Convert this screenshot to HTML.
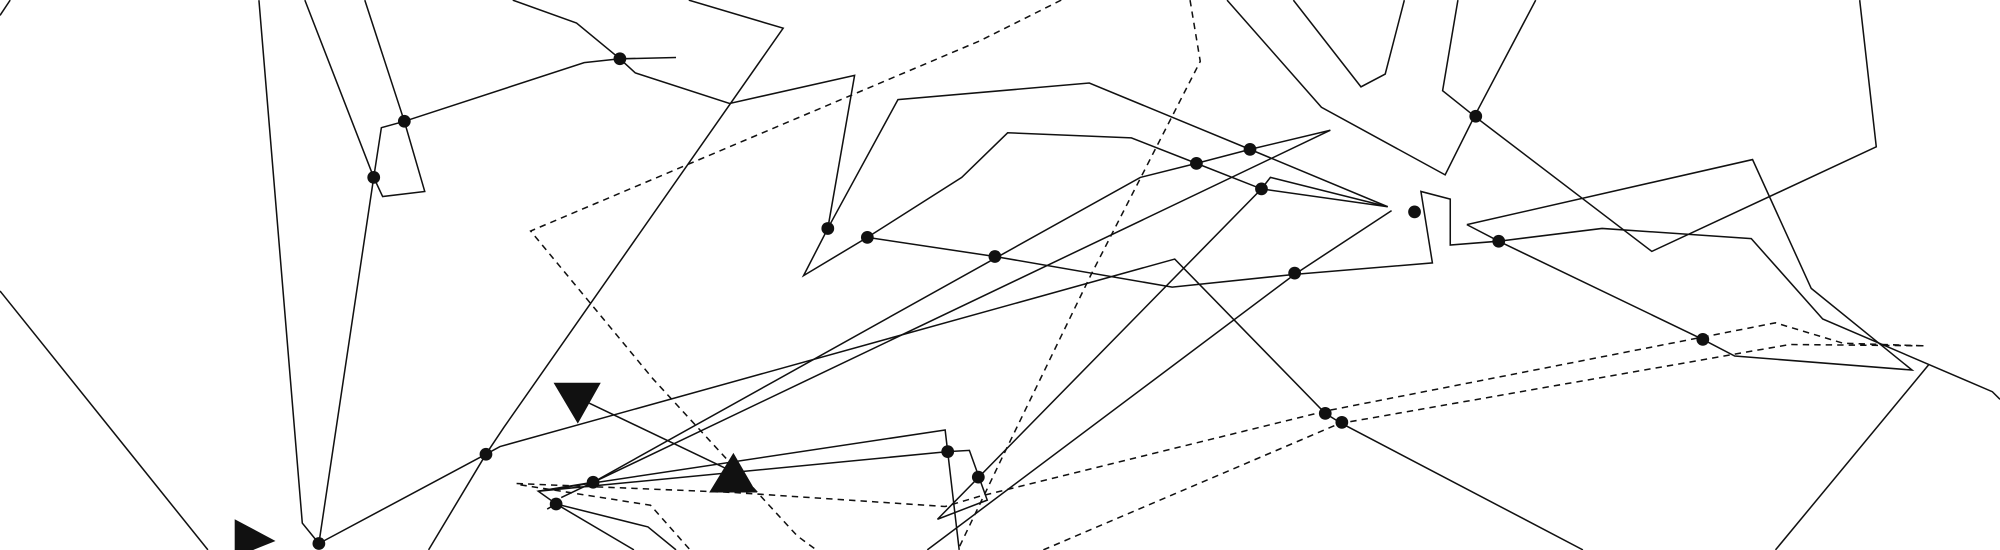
<!DOCTYPE html>
<html><head><meta charset="utf-8"><style>html,body{margin:0;padding:0;background:#fff;}svg{display:block;}</style></head>
<body>
<svg width="2000" height="550" viewBox="0 0 1568 431" xmlns="http://www.w3.org/2000/svg">
<g fill="none" stroke="#111" stroke-width="1.2" stroke-linejoin="miter">
<polyline points="0,12 8,0"/>
<polyline points="0,228 163,431"/>
<polyline points="203,0 237,410 250,426"/>
<polyline points="250,426 293,139 299,100 317,95 458,49 486,46 530,45"/>
<polyline points="239,0 293,139 300,154 333,150 317,95 286,0"/>
<polyline points="402,0 452,18 486,46 498,57 572,81 670,59 649,179 630,216 680,186 754,139 790,104 887,108 938,128 989,148 1088,162 996,139 989,148 735,407 774,392 760,353 743,354 422,385 741,337 752,431"/>
<polyline points="540,0 614,22 395,335 381,356 336,431"/>
<polyline points="250,426 381,356 392,350 921,203 1039,324 1052,332 1241,431"/>
<polyline points="649,179 704,78 854,65 980,117 1088,162"/>
<polyline points="680,186 780,201 919,225 1015,215 1123,206 1114,150 1137,156 1137,192 1175,189 1256,179 1373,187 1429,250 1562,307 1568,313"/>
<polyline points="1150,176 1374,125 1420,226 1499,290 1360,279 1335,266 1175,189 1150,176"/>
<polyline points="1512,286 1392,431"/>
<polyline points="1458,0 1471,115 1295,197 1156,91 1131,71 1143,0"/>
<polyline points="1204,0 1156,91 1133,137 1036,84 962,0"/>
<polyline points="1014,0 1067,68 1086,58 1101,0"/>
<polyline points="1043,102 980,117 938,128 894,139 465,378 422,385 436,395 508,413 530,431"/>
<polyline points="1043,102 440,390 465,378"/>
<polyline points="436,395 497,431"/>
<polyline points="436,395 429,399"/>
<polyline points="1091,165 1015,215 727,431"/>
<polyline points="462,316 575,370"/>
</g>
<g fill="none" stroke="#111" stroke-width="1.2" stroke-dasharray="5,4">
<polyline points="832,0 768,32 416,181 512,297 625,420 640,431"/>
<polyline points="933,0 941,48 855,216 786,358 751,431"/>
<polyline points="405,379 575,386 741,397 768,389 1040,322 1392,253 1445,269 1508,271"/>
<polyline points="818,431 1050,332 1403,270 1508,271"/>
<polyline points="408,380 510,396 541,431"/>
</g>
<g fill="#111">
<polygon points="434,300 471,300 453,332"/>
<polygon points="556,386 593,386 575,355"/>
<polygon points="184,407 216,424 184,437"/>
<circle cx="293" cy="139" r="5"/><circle cx="317" cy="95" r="5"/><circle cx="486" cy="46" r="5"/>
<circle cx="649" cy="179" r="5"/><circle cx="680" cy="186" r="5"/><circle cx="780" cy="201" r="5"/>
<circle cx="938" cy="128" r="5"/><circle cx="980" cy="117" r="5"/><circle cx="989" cy="148" r="5"/>
<circle cx="1015" cy="214" r="5"/><circle cx="1109" cy="166" r="5"/><circle cx="1157" cy="91" r="5"/>
<circle cx="1175" cy="189" r="5"/><circle cx="1335" cy="266" r="5"/><circle cx="1039" cy="324" r="5"/>
<circle cx="1052" cy="331" r="5"/><circle cx="743" cy="354" r="5"/><circle cx="767" cy="374" r="5"/>
<circle cx="465" cy="378" r="5"/><circle cx="436" cy="395" r="5"/><circle cx="381" cy="356" r="5"/>
<circle cx="250" cy="426" r="5"/>
</g>
</svg>
</body></html>
